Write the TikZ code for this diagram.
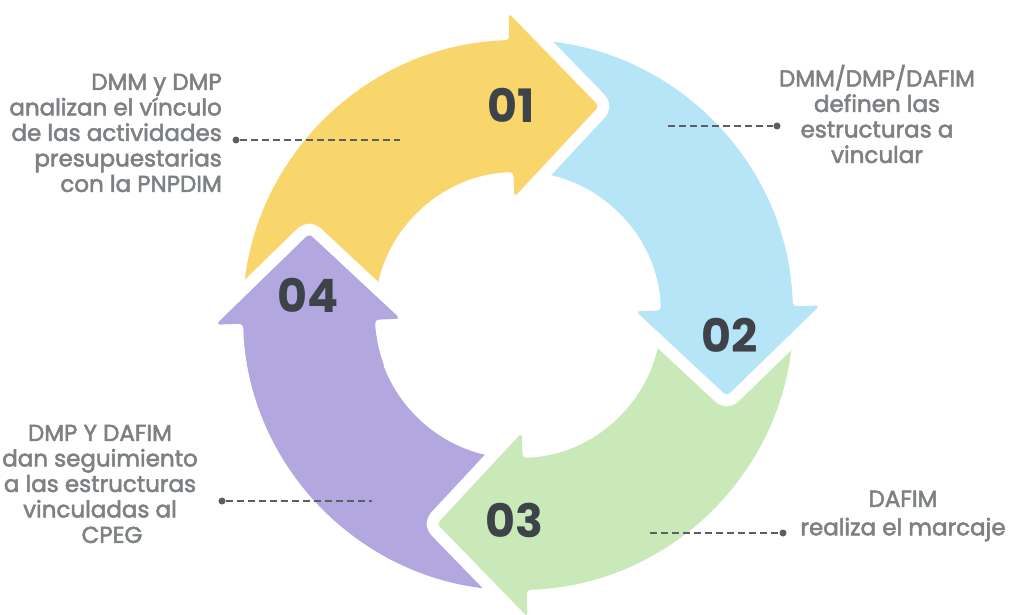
\documentclass[tikz,border=0pt]{standalone}
\usepackage{fontspec}
\setmainfont{Poppins}
\newfontfamily\lblfont{Poppins}[FakeBold=2.3]
\definecolor{cyel}{HTML}{F9D66C}
\definecolor{cblu}{HTML}{B6E5F8}
\definecolor{cgrn}{HTML}{C9EAB8}
\definecolor{cpur}{HTML}{B3A7E0}
\definecolor{numcol}{HTML}{3D4348}
\definecolor{txtcol}{HTML}{7E8184}
\definecolor{lincol}{HTML}{5A5F66}
\newcommand\cyclearrow[2]{%
  \path[fill=#2, rounded corners=4, preaction={draw=white, line width=24, line join=round}]
    ({#1+90}:275) arc[start angle={#1+90}, end angle={#1}, radius=275]
    -- (#1:302) -- ({#1-23}:224) -- (#1:118) -- (#1:143)
    arc[start angle={#1}, end angle={#1+90}, radius=143] -- cycle;
}
\tikzset{
  num/.style={font=\fontsize{46}{46}\selectfont\bfseries, text=numcol, inner sep=0},
  lbl/.style={font=\lblfont\fontsize{23}{25.5}\selectfont, text=txtcol, inner sep=0},
  dotnode/.style={circle, fill=lincol, minimum size=7, inner sep=0},
  conn/.style={draw=lincol, line width=2, dash pattern=on 7pt off 4pt}
}
\begin{document}
\begin{tikzpicture}[x=1pt,y=1pt]
\useasboundingbox[fill=white] (0,0) rectangle (1021,614);
\begin{scope}[shift={(518,299)}, rotate=1.8]
  \cyclearrow{180}{cpur}
  \cyclearrow{-90}{cgrn}
  \cyclearrow{0}{cblu}
  \cyclearrow{90}{cyel}
  % purple head on top of the yellow tail
  \path[fill=cpur, rounded corners=4, preaction={draw=white, line width=24, line join=round}]
    (180:302) -- (157:224) -- (180:118) -- cycle;
  \fill[cpur, rounded corners=4] (180:302) -- (157:224) -- (180:118) -- (180:143)
    arc[start angle=180, end angle=200, radius=143] -- (200:275)
    arc[start angle=200, end angle=180, radius=275] -- cycle;
\end{scope}
% numbers
\node[num] (n1) at (511,509) {01};
\node[num] (n2) at (730,279) {02};
\node[num] (n3) at (514,94) {03};
\node[num] (n4) at (308,319) {04};
% labels
\node[lbl, align=right, anchor=east] (l1) at (222,481)
  {DMM y DMP\\analizan el vínculo\\de las actividades\\presupuestarias\\con la PNPDIM};
\node[lbl, align=center] (l2) at (877,500)
  {DMM/DMP/DAFIM\\definen las\\estructuras a\\vincular};
\node[lbl, align=center] (l3) at (100,130)
  {DMP Y DAFIM\\dan seguimiento\\a las estructuras\\vinculadas al\\\hspace*{24pt}CPEG};
\node[lbl, align=center] (l4) at (903,98)
  {DAFIM\\[3pt]realiza el marcaje};
% connectors
\node[dotnode] (d1) at (236,474) {};
\coordinate (e1) at (400,474);
\draw[conn] (d1) -- (e1);
\node[dotnode] (d2) at (777,488) {};
\coordinate (e2) at (668,488);
\draw[conn] (e2) -- (d2);
\node[dotnode] (d3) at (222,113) {};
\coordinate (e3) at (372,113);
\draw[conn] (d3) -- (e3);
\node[dotnode] (d4) at (783,81) {};
\coordinate (e4) at (650,81);
\draw[conn] (e4) -- (d4);
\end{tikzpicture}
\end{document}
